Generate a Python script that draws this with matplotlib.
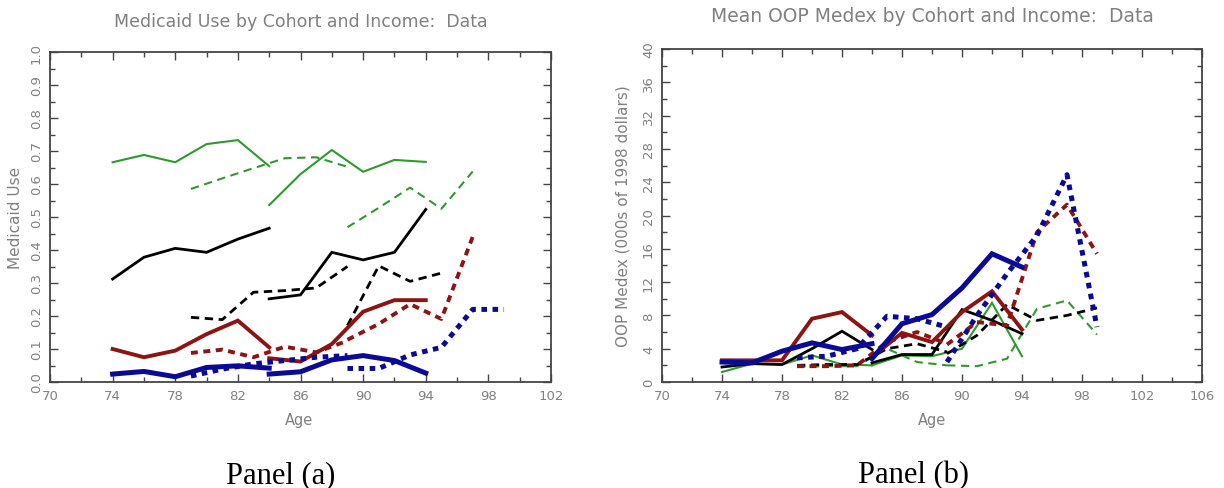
import numpy as np
import matplotlib
matplotlib.use("Agg")
import matplotlib.pyplot as plt
from matplotlib.ticker import MultipleLocator, FixedLocator

nan = np.nan

# ages of the four cohorts (two solid, two dashed)
ages_c1 = [74, 76, 78, 80, 82, 84]
ages_c2 = [84, 86, 88, 90, 92, 94]
ages_c3 = [79, 81, 83, 85, 87, 89]
ages_c4 = [89, 91, 93, 95, 97, 99]

# panel (a): medicaid use, by income group
mcd_green = [[0.666, 0.688, 0.666, 0.721, 0.733, 0.654],
             [0.536, 0.630, 0.703, 0.637, 0.673, 0.667],
             [0.585, 0.617, 0.648, 0.678, 0.681, 0.652],
             [0.469, 0.528, 0.589, 0.525, 0.638, nan]]
mcd_black = [[0.312, 0.378, 0.405, 0.393, 0.433, 0.466],
             [0.252, 0.264, 0.393, 0.370, 0.393, 0.523],
             [0.196, 0.189, 0.272, 0.277, 0.285, 0.350],
             [0.171, 0.352, 0.305, 0.330, nan, nan]]
mcd_red = [[0.100, 0.075, 0.095, 0.145, 0.186, 0.105],
           [0.072, 0.062, 0.115, 0.213, 0.248, 0.248],
           [0.088, 0.098, 0.075, 0.107, 0.090, 0.125],
           [0.128, 0.176, 0.236, 0.191, 0.440, nan]]
mcd_blue = [[0.024, 0.032, 0.016, 0.044, 0.049, 0.042],
            [0.024, 0.031, 0.067, 0.080, 0.065, 0.027],
            [0.018, 0.039, 0.055, 0.065, 0.075, 0.080],
            [0.041, 0.041, 0.082, 0.105, 0.220, 0.220]]

# panel (b): mean OOP medex, 000s of 1998 dollars
oop_green = [[1.2, 2.2, 2.1, 3.2, 2.1, 2.0],
             [2.0, 3.2, 3.1, 4.0, 9.5, 3.1],
             [1.8, 1.9, 1.9, 4.0, 2.4, 2.0],
             [2.0, 1.9, 2.8, 8.8, 9.8, 5.7]]
oop_black = [[1.8, 2.2, 2.1, 4.0, 6.1, 3.9],
             [2.3, 3.3, 3.3, 8.7, 7.4, 5.8],
             [2.0, 2.1, 2.1, 4.0, 4.6, 3.6],
             [3.4, 5.6, 9.3, 7.4, 8.0, 8.9]]
oop_red = [[2.6, 2.6, 2.6, 7.6, 8.4, 5.6],
           [3.0, 5.9, 4.8, 8.4, 10.9, 6.3],
           [1.9, 1.9, 2.0, 4.8, 6.0, 4.6],
           [4.5, 7.2, 6.8, 18.0, 21.3, 15.4]]
oop_blue = [[2.4, 2.3, 3.7, 4.7, 3.9, 4.6],
            [2.8, 7.0, 8.1, 11.3, 15.4, 13.8],
            [2.9, 3.1, 4.0, 7.9, 7.6, 6.6],
            [2.4, 8.0, 13.0, 17.6, 24.9, 6.6]]

cohort_ages = [ages_c1, ages_c2, ages_c3, ages_c4]
# (color, width, dash) per income group
styles = [("#2e9a2e", 1.5, (6, 4)),
          ("#000000", 2.0, (6, 4)),
          ("#8e1414", 2.8, (5, 4)),
          ("#0a0a96", 3.6, (4, 4))]

plt.rcParams['lines.scale_dashes'] = False
grey = "#808080"
W, H = 1224, 489


def ax_rect(x0, y0, x1, y1):  # pixel box -> figure fraction
    return [x0 / W, 1 - y1 / H, (x1 - x0) / W, (y1 - y0) / H]


def draw_panel(ax, groups, xlim, ylim, ymaj, ymin, yfmt):
    for vals, (col, lw, dash) in zip(groups, styles):
        for k in range(4):
            ls = "-" if k < 2 else (0, dash)
            ax.plot(cohort_ages[k], vals[k], color=col, lw=lw, ls=ls,
                    solid_joinstyle="miter", dash_capstyle="butt")
    ax.set_xlim(*xlim)
    ax.set_ylim(*ylim)
    ax.xaxis.set_major_locator(FixedLocator(np.arange(xlim[0], xlim[1] + 1, 4)))
    ax.xaxis.set_minor_locator(MultipleLocator(2))
    ax.yaxis.set_major_locator(MultipleLocator(ymaj))
    ax.yaxis.set_minor_locator(MultipleLocator(ymin))
    ax.set_yticklabels([yfmt % v for v in ax.get_yticks()])
    ax.tick_params(which="both", direction="in", top=True, right=True,
                   color="#444444", width=1.0)
    ax.tick_params(which="major", length=6)
    ax.tick_params(which="minor", length=3.5)
    ax.tick_params(axis="x", labelsize=9.5, labelcolor=grey, pad=5)
    ax.tick_params(axis="y", labelsize=9.5, labelcolor=grey, labelrotation=90, pad=5)
    for lab in ax.get_yticklabels():
        lab.set_va("center")
    for s in ax.spines.values():
        s.set_color("#444444")
        s.set_linewidth(1.3)


fig = plt.figure(figsize=(W / 100, H / 100), dpi=100)

axa = fig.add_axes(ax_rect(50, 53, 551, 383))
draw_panel(axa, [mcd_green, mcd_black, mcd_red, mcd_blue],
           (70, 102), (0, 1.0), 0.1, 0.05, "%.1f")
axb = fig.add_axes(ax_rect(662, 50, 1202, 383))
draw_panel(axb, [oop_green, oop_black, oop_red, oop_blue],
           (70, 106), (0, 40), 4, 2, "%d")

fig.text(301 / W, 1 - 22 / H, "Medicaid Use by Cohort and Income:  Data",
         ha="center", va="center", fontsize=12.5, color=grey)
fig.text(932 / W, 1 - 17 / H, "Mean OOP Medex by Cohort and Income:  Data",
         ha="center", va="center", fontsize=13.5, color=grey)
fig.text(16 / W, 1 - 218 / H, "Medicaid Use", rotation=90,
         ha="center", va="center", fontsize=11, color=grey)
fig.text(623 / W, 1 - 216 / H, "OOP Medex (000s of 1998 dollars)", rotation=90,
         ha="center", va="center", fontsize=11, color=grey)
fig.text(299 / W, 1 - 420 / H, "Age", ha="center", va="center", fontsize=10.5, color=grey)
fig.text(932 / W, 1 - 421 / H, "Age", ha="center", va="center", fontsize=10.5, color=grey)

fig.text(281 / W, 1 - 476 / H, "Panel (a)", ha="center", va="center",
         fontsize=22, family="Liberation Serif", color="black")
fig.text(913 / W, 1 - 476 / H, "Panel (b)", ha="center", va="center",
         fontsize=22, family="Liberation Serif", color="black")

fig.savefig("out.png", dpi=100, facecolor="white")
